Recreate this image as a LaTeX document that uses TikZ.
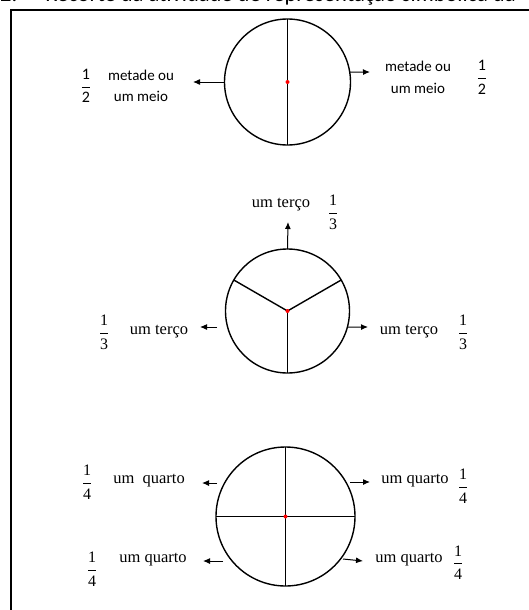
\documentclass[tikz,border=0pt]{standalone}
\usepackage{fontspec}
\setmainfont{Liberation Serif}
\setsansfont{Carlito}
\usetikzlibrary{arrows.meta}

\newcommand{\fr}[2]{$\displaystyle\frac{\textrm{#1}}{\textrm{#2}}$}
\newcommand{\frsf}[2]{$\displaystyle\frac{\textsf{#1}}{\textsf{#2}}$}

\begin{document}
\begin{tikzpicture}[
  x=1pt, y=-1pt,
  >={Latex[length=7pt,width=6pt]},
  disc/.style={circle, draw, line width=1.4pt, inner sep=0pt, outer sep=0pt},
  part/.style={line width=1.4pt},
  arr/.style={->, line width=1pt},
  hub/.style={circle, fill=red, inner sep=0pt, minimum size=4pt},
  lbl/.style={font=\fontsize{16.5}{19}\selectfont, anchor=base, inner sep=0pt},
  lblsf/.style={font=\sffamily\fontsize{15}{21.5}\selectfont, align=center, inner sep=0pt},
  fracbox/.style={font=\fontsize{16}{19}\selectfont, inner sep=0pt}
]
  \useasboundingbox (0,0) rectangle (528,610);

  % caption, cut off at the top
  \begin{scope}
    \clip (0,0) rectangle (528,610);
    \node[font=\sffamily\fontsize{22.5}{26}\selectfont, anchor=base west, inner sep=0pt]
      (cap) at (0,1.5) {2.\hspace{28pt}Recorte da atividade de representação simbólica da};
  \end{scope}

  % frame
  \draw[line width=1.5pt] (11,612) -- (11,10) -- (530,10);

  % one half
  \node[disc, minimum size=126pt] (c1) at (287.5,82) {};
  \draw[part] (c1.north) -- (c1.south);
  \node[hub] (o1) at (c1.center) {};

  \node[lblsf] (t1l) at (141,86) {metade ou\\um meio};
  \node[fracbox] (f1l) at (86,86) {\frsf{1}{2}};
  \node[lblsf] (t1r) at (418,77.5) {metade ou\\um meio};
  \node[fracbox] (f1r) at (482,77.5) {\frsf{1}{2}};

  \coordinate (e1l) at (193,82);
  \coordinate (e1r) at (370,72);
  \draw[arr] (c1.west) -- (e1l);
  \draw[arr] (c1.9) -- (e1r);

  % one third
  \node[disc, minimum size=124pt] (c2) at (287.5,311) {};
  \draw[part] (c2.center) -- (c2.150);
  \draw[part] (c2.center) -- (c2.30);
  \draw[part] (c2.center) -- (c2.south);
  \node[hub] (o2) at (c2.center) {};

  \node[lbl] (t2t) at (281,207) {um terço};
  \node[fracbox] (f2t) at (333,212.5) {\fr{1}{3}};
  \node[lbl] (t2l) at (159,334) {um terço};
  \node[fracbox] (f2l) at (104,332.5) {\fr{1}{3}};
  \node[lbl] (t2r) at (409,334) {um terço};
  \node[fracbox] (f2r) at (463,332.5) {\fr{1}{3}};

  \coordinate (e2t) at (288,222);
  \coordinate (s2l) at (217,327);
  \coordinate (e2l) at (200,327);
  \coordinate (e2r) at (368,327);
  \draw[arr] (c2.north) -- (e2t);
  \draw[arr] (s2l) -- (e2l);
  \draw[arr] (c2.-15) -- (e2r);

  % one quarter
  \node[disc, minimum size=139pt] (c3) at (285.5,516.5) {};
  \draw[part] (c3.north) -- (c3.south);
  \draw[part] (c3.west) -- (c3.east);
  \node[hub] (o3) at (c3.center) {};

  \node[lbl] (t3a) at (149,483) {um\ \ quarto};
  \node[fracbox] (f3a) at (87,482) {\fr{1}{4}};
  \node[lbl] (t3b) at (153,562) {um quarto};
  \node[fracbox] (f3b) at (92,569) {\fr{1}{4}};
  \node[lbl] (t3c) at (415,483) {um quarto};
  \node[fracbox] (f3c) at (463,486) {\fr{1}{4}};
  \node[lbl] (t3d) at (409,562) {um quarto};
  \node[fracbox] (f3d) at (458,562.5) {\fr{1}{4}};

  \coordinate (s3a) at (217,483);
  \coordinate (e3a) at (202,483);
  \coordinate (s3b) at (223,561);
  \coordinate (e3b) at (203,561);
  \coordinate (s3c) at (350,482);
  \coordinate (e3c) at (370,482);
  \coordinate (s3d) at (343,559);
  \coordinate (e3d) at (363,561);
  \draw[arr] (s3a) -- (e3a);
  \draw[arr] (s3b) -- (e3b);
  \draw[arr] (s3c) -- (e3c);
  \draw[arr] (s3d) -- (e3d);
\end{tikzpicture}
\end{document}
